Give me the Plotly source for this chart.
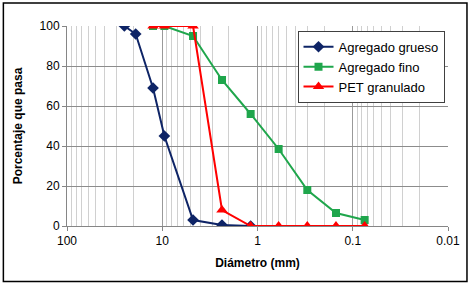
import plotly.graph_objects as go

# Sieve sizes (mm)
sizes_grueso = [25, 19, 12.5, 9.5, 4.75, 2.36, 1.18]
pasa_grueso = [100, 96, 69, 45, 3, 0.5, 0]

sizes_fino = [12.5, 9.5, 4.75, 2.36, 1.18, 0.6, 0.3, 0.15, 0.075]
pasa_fino = [100, 100, 95, 73, 56, 38.5, 18, 6.5, 3]

sizes_pet = [12.5, 9.5, 4.75, 2.36, 1.18, 0.6, 0.3, 0.15, 0.075]
pasa_pet = [100, 100, 100, 8, 0, 0, 0, 0, 0]

x_tickvals = [100, 10, 1, 0.1, 0.01]
x_ticktext = ["100", "10", "1", "0.1", "0.01"]
y_tickvals = [0, 20, 40, 60, 80, 100]

navy = "#0E2466"
green = "#1FA64C"
red = "#FF0000"

fig = go.Figure()
fig.add_trace(go.Scatter(x=sizes_grueso, y=pasa_grueso, name="Agregado grueso",
                         mode="lines+markers", line=dict(color=navy, width=2),
                         marker=dict(symbol="diamond", size=9, color=navy)))
fig.add_trace(go.Scatter(x=sizes_fino, y=pasa_fino, name="Agregado fino",
                         mode="lines+markers", line=dict(color=green, width=2),
                         marker=dict(symbol="square", size=8, color=green)))
fig.add_trace(go.Scatter(x=sizes_pet, y=pasa_pet, name="PET granulado",
                         mode="lines+markers", line=dict(color=red, width=2),
                         marker=dict(symbol="triangle-up", size=10, color=red)))

font = "Liberation Sans, Arial, sans-serif"
fig.update_layout(
    width=473, height=286,
    margin=dict(l=67, r=25, t=26, b=60),
    paper_bgcolor="white", plot_bgcolor="white",
    font=dict(family=font, size=12, color="black"),
    showlegend=True,
    legend=dict(x=0.605, y=0.976, xanchor="left", yanchor="top",
                bgcolor="white", bordercolor="#404040", borderwidth=1,
                font=dict(size=13), tracegroupgap=0, itemwidth=30),
    xaxis=dict(type="log", range=[2, -2], tickvals=x_tickvals, ticktext=x_ticktext,
               showgrid=True, gridcolor="#9a9a9a", gridwidth=1,
               minor=dict(dtick="D1", showgrid=True, gridcolor="#d0d0d0", ticks=""),
               showline=True, linecolor="#868686", linewidth=1,
               ticks="outside", ticklen=4, tickcolor="#868686",
               zeroline=False,
               title=dict(text="<b>Diámetro (mm)</b>", font=dict(size=12), standoff=11)),
    yaxis=dict(range=[0, 100], tickvals=y_tickvals,
               showgrid=True, gridcolor="#8c8c8c", gridwidth=1,
               showline=True, linecolor="#868686", linewidth=1,
               ticks="outside", ticklen=4, tickcolor="#868686",
               zeroline=False,
               title=dict(text="<b>Porcentaje que pasa</b>", font=dict(size=12), standoff=14)),
)

fig.add_shape(type="rect", xref="paper", yref="paper",
              x0=-0.167, x1=1.0498, y0=-0.277, y1=1.115,
              line=dict(color="black", width=1.5), layer="above")

fig.write_html("out.html", config={"displayModeBar": False},
               post_script="document.body.style.margin='0px';")
